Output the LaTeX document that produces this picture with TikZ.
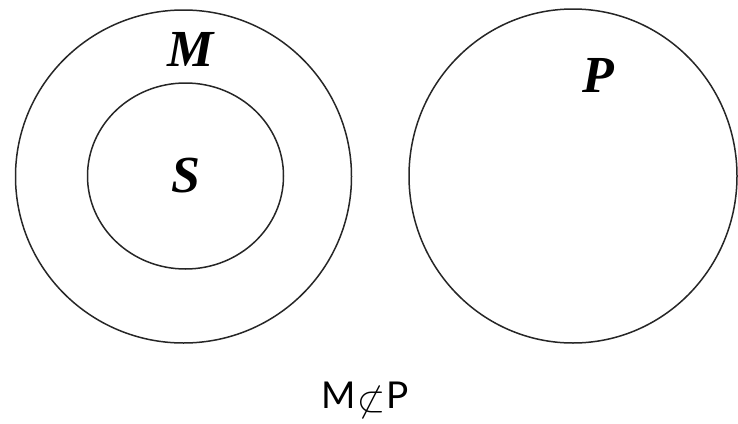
\documentclass[tikz,border=0pt]{standalone}
\usepackage{fontspec}
\usepackage{graphicx}
\setmainfont{Liberation Serif}
\newfontfamily\labfont{Lato}
\begin{document}
\begin{tikzpicture}[x=1pt,y=-1pt,
  ring/.style={draw=black!85,line width=1.5pt},
  setlabel/.style={font=\fontsize{52}{52}\selectfont\bfseries\itshape,inner sep=0pt}]
\useasboundingbox (0,0) rectangle (738,423);
\draw[ring] (183.5,176.5) ellipse [x radius=168, y radius=166.5];
\draw[ring] (185.5,176) ellipse [x radius=98, y radius=93];
\draw[ring] (573,176) ellipse [x radius=164, y radius=167];
\node[setlabel] (m) at (191,49) {M};
\node[setlabel] (s) at (186,176) {S};
\node[setlabel] (p) at (598,75) {P};
\node[font=\fontsize{37}{37}\selectfont\labfont,inner sep=0pt,anchor=base] (rel) at (365,408) {M\kern1pt\raisebox{-3pt}{\scalebox{1.45}{$\not\subset$}}\kern1pt P};
\end{tikzpicture}
\end{document}
